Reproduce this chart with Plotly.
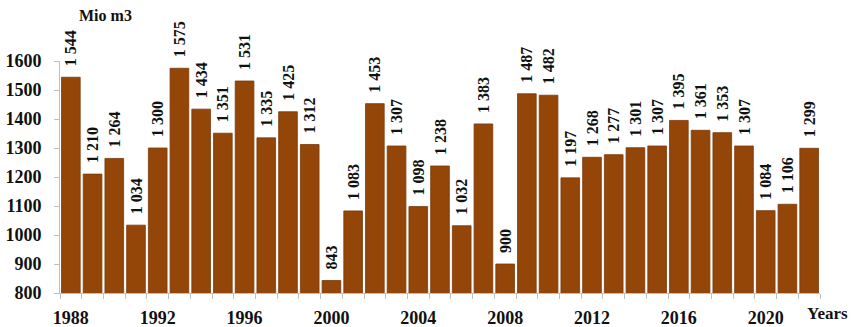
import plotly.graph_objects as go

years = list(range(1988, 2023))
values = [1544, 1210, 1264, 1034, 1300, 1575, 1434, 1351, 1531, 1335, 1425, 1312,
          843, 1083, 1453, 1307, 1098, 1238, 1032, 1383, 900, 1487, 1482, 1197,
          1268, 1277, 1301, 1307, 1395, 1361, 1353, 1307, 1084, 1106, 1299]
x_tick_years = [1988, 1992, 1996, 2000, 2004, 2008, 2012, 2016, 2020]
y_ticks = [800, 900, 1000, 1100, 1200, 1300, 1400, 1500, 1600]
y_title = "Mio m3"
x_title = "Years"

# leading non-breaking spaces give the larger gap between bar top and label
labels = ["\u00a0\u00a0" + f"{v:,}".replace(",", " ") for v in values]

FONT = "Liberation Serif"
BAR = "#944508"

fig = go.Figure(go.Bar(
    x=years, y=values, text=labels,
    textposition="outside", textangle=-90, constraintext="none",
    textfont=dict(family=FONT, size=16, color="#111111", weight="bold"),
    marker=dict(color=BAR, line=dict(color="#7a3a0a", width=0.8)),
    cliponaxis=False,
))

fig.update_layout(
    width=853, height=327,
    margin=dict(l=60, r=33, t=61, b=34, autoexpand=False),
    paper_bgcolor="white", plot_bgcolor="white",
    bargap=0.14, showlegend=False,
    uniformtext=dict(mode=False),
    xaxis=dict(
        range=[1987.5, 2022.5], tickmode="array", tickvals=x_tick_years,
        ticks="", showgrid=False, zeroline=False, automargin=False,
        showline=True, linecolor="#bfbfbf", linewidth=1,
        tickfont=dict(family=FONT, size=18, color="#111111", weight="bold"),
        ticklabelstandoff=8,
        minor=dict(tick0=1987.5, dtick=1, ticks="outside", ticklen=5,
                   tickcolor="#bfbfbf", tickwidth=1, showgrid=False),
    ),
    yaxis=dict(
        range=[800, 1600], tickmode="array", tickvals=y_ticks,
        ticks="outside", ticklen=5, tickcolor="#bfbfbf",
        showgrid=False, zeroline=False, automargin=False,
        showline=True, linecolor="#bfbfbf", linewidth=1,
        tickfont=dict(family=FONT, size=18, color="#111111", weight="bold"),
        ticklabelstandoff=9,
    ),
    annotations=[
        dict(text=y_title, xref="paper", yref="paper", x=(77 - 60) / 760, y=1 + (61 - 15) / 232,
             xanchor="left", yanchor="middle", showarrow=False,
             font=dict(family=FONT, size=16, color="#111111", weight="bold")),
        dict(text=x_title, xref="paper", yref="paper", x=(805 - 60) / 760, y=-(313 - 293) / 232,
             xanchor="left", yanchor="middle", showarrow=False,
             font=dict(family=FONT, size=17, color="#111111", weight="bold")),
    ],
)

fig.write_html("out.html")
